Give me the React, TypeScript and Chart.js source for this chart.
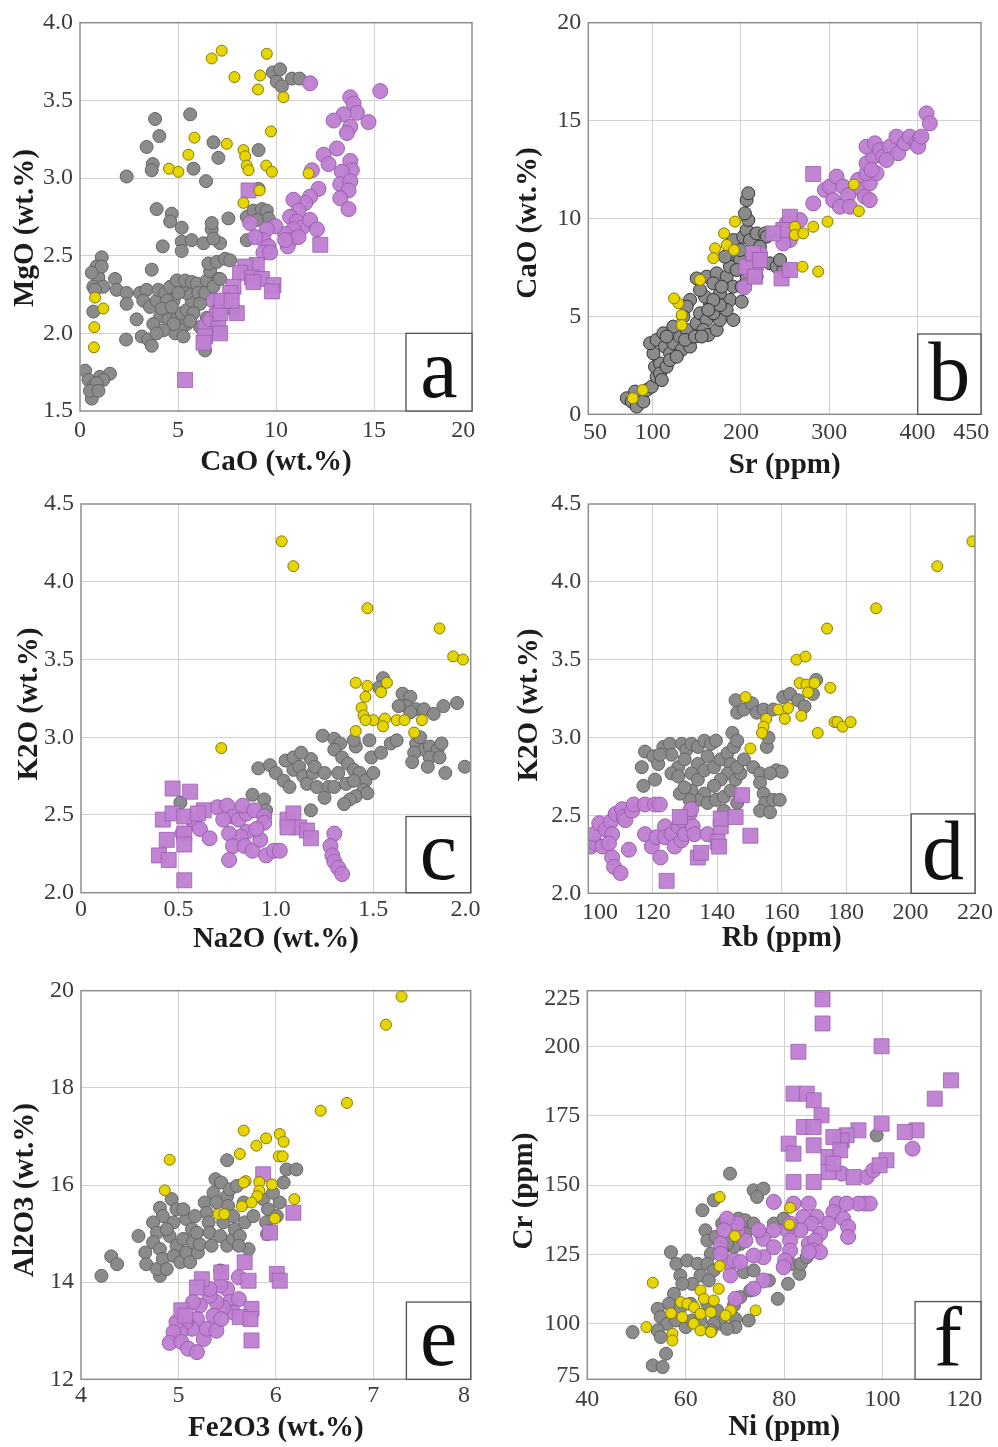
import { useEffect, useRef } from "react";
import { Chart, registerables } from "chart.js";
Chart.register(...registerables);

type Pt = [number, number];

// ---------------- Panel a : CaO vs MgO ----------------
const A_X_TICKS = [0, 5, 10, 15, 19.55];
const A_X_LABELS = ["0", "5", "10", "15", "20"];
const A_X_GRID = [5, 10, 15];
const A_Y_TICKS = [1.5, 2, 2.5, 3, 3.5, 4];
const A_Y_LABELS = ["1.5", "2.0", "2.5", "3.0", "3.5", "4.0"];
const A_Y_GRID = [2, 2.5, 3, 3.5];
const A_YELLOW: Pt[] = [[6.72,3.77],[7.23,3.82],[9.53,3.80],[7.88,3.65],[9.19,3.66],[9.08,3.57],[10.38,3.52],[9.74,3.30],[5.84,3.26],[7.49,3.22],[5.53,3.15],[8.34,3.18],[8.43,3.14],[8.51,3.08],[8.6,3.05],[4.54,3.06],[5.02,3.04],[9.5,3.08],[9.79,3.04],[11.66,3.03],[9.16,2.92],[8.34,2.84],[0.77,2.23],[1.19,2.16],[0.73,2.04],[0.71,1.91]];
const A_PSQ: Pt[] = [[8.6,2.92],[5.36,1.70],[12.26,2.57],[9.02,2.44],[8.43,2.43],[8.17,2.39],[8.77,2.36],[9.28,2.35],[9.87,2.31],[9.79,2.27],[8.85,2.33],[7.83,2.30],[7.66,2.26],[8.0,2.13],[7.15,2.13],[7.06,2.03],[7.15,2.0],[6.38,1.98],[6.3,1.94],[7.23,2.21],[7.74,2.21]];
const A_PCIR: Pt[] = [[11.74,3.61],[15.32,3.56],[13.79,3.52],[13.96,3.48],[14.13,3.42],[13.45,3.41],[12.94,3.37],[14.72,3.36],[13.79,3.33],[13.62,3.29],[13.11,3.19],[12.43,3.15],[12.68,3.09],[13.79,3.11],[13.87,3.05],[13.36,3.04],[13.28,2.96],[13.79,2.98],[13.7,2.92],[13.28,2.87],[13.7,2.80],[12.17,2.93],[11.74,2.88],[11.49,2.84],[10.89,2.86],[11.15,2.79],[10.72,2.75],[11.06,2.72],[11.32,2.68],[11.74,2.73],[12.09,2.67],[10.89,2.67],[10.47,2.64],[9.96,2.69],[9.53,2.67],[9.36,2.6],[9.62,2.56],[9.36,2.52],[9.7,2.52],[8.94,2.62],[8.68,2.71],[10.72,2.60],[10.6,2.56],[11.15,2.62],[10.47,2.60],[7.32,2.17],[6.81,2.21],[6.38,2.05],[6.64,2.09],[6.98,2.14],[11.83,3.05]];
const A_GRAY: Pt[] = [[0.26,1.76],[0.43,1.70],[0.68,1.66],[0.6,1.58],[1.02,1.72],[1.53,1.74],[1.19,1.70],[0.85,1.68],[0.51,1.63],[0.94,1.63],[1.11,2.49],[0.85,2.43],[0.94,2.36],[0.68,2.30],[1.19,2.30],[0.77,2.28],[1.79,2.35],[1.87,2.28],[2.38,2.26],[2.38,2.19],[2.35,1.96],[2.89,2.09],[2.38,3.01],[0.68,2.14],[1.11,2.43],[0.6,2.39],[3.06,2.26],[3.40,2.28],[3.23,2.21],[3.57,2.17],[3.91,2.21],[3.15,1.98],[3.49,1.96],[3.66,1.92],[3.66,2.41],[4.0,2.28],[4.34,2.26],[4.6,2.30],[4.77,2.21],[4.43,2.15],[4.09,2.11],[3.74,2.06],[4.51,2.09],[4.94,2.09],[5.19,2.13],[5.45,2.15],[5.7,2.21],[5.45,2.26],[5.19,2.30],[4.94,2.34],[5.36,2.34],[5.70,2.33],[5.96,2.32],[6.04,2.26],[6.13,2.19],[5.79,2.13],[5.45,2.06],[5.11,2.02],[4.85,2.0],[5.28,1.98],[4.77,2.06],[4.26,2.02],[3.91,2.0],[6.38,2.26],[6.47,2.34],[6.64,2.40],[6.55,2.45],[6.98,2.46],[7.4,2.48],[7.66,2.47],[7.06,2.35],[6.81,2.30],[6.98,2.21],[7.83,2.15],[6.38,1.89],[6.47,2.10],[6.13,2.04],[5.62,2.08],[4.43,2.21],[4.17,2.16],[5.02,2.26],[4.68,2.17],[3.91,2.80],[4.68,2.77],[4.6,2.72],[5.19,2.68],[5.19,2.59],[5.19,2.53],[5.70,2.60],[4.22,2.56],[6.3,2.58],[6.72,2.67],[6.72,2.71],[7.15,2.58],[6.81,2.61],[7.57,2.74],[8.51,2.75],[8.85,2.79],[9.28,2.80],[9.53,2.79],[9.62,2.74],[9.02,2.73],[8.51,2.60],[7.15,2.35],[3.83,3.38],[4.05,3.27],[3.40,3.20],[3.71,3.09],[3.66,3.05],[5.62,3.41],[5.79,3.06],[6.43,2.98],[6.81,3.23],[7.06,3.13],[9.11,3.18],[9.11,2.93],[9.84,3.68],[10.21,3.70],[10.04,3.62],[10.81,3.64],[11.2,3.64],[10.3,3.59]];

// ---------------- Panel b : Sr vs CaO ----------------
const B_X_TICKS = [34.7, 100, 200, 300, 400, 461];
const B_X_LABELS = ["50", "100", "200", "300", "400", "450"];
const B_X_GRID = [100, 200, 300, 400];
const B_Y_TICKS = [0, 5, 10, 15, 20];
const B_Y_LABELS = ["0", "5", "10", "15", "20"];
const B_Y_GRID = [5, 10, 15];
const B_YELLOW: Pt[] = [[77.4,0.82],[88.7,1.24],[193.2,9.84],[180.8,9.24],[183.8,8.65],[170.6,8.48],[168.7,7.97],[192.1,8.39],[153.6,6.86],[129.1,5.67],[132.8,5.07],[132.8,4.56],[261.1,9.58],[261.1,9.16],[270.6,9.24],[281.9,9.58],[298.1,9.84],[327.9,11.74],[333.6,10.38],[269.8,7.54],[287.5,7.29],[124.2,5.92]];
const B_PSQ: Pt[] = [[281.9,12.27],[206.4,7.54],[214,8.22],[215.8,7.03],[221.5,7.88],[246,6.94],[255.5,7.37],[255.5,10.09],[248,9.41],[236.6,9.24]];
const B_PCIR: Pt[] = [[203.8,6.49],[208.3,7.37],[214,7.88],[217.7,7.54],[221.5,8.22],[246,9.24],[251.7,9.75],[255.5,8.9],[248,8.73],[259.2,9.41],[266.8,9.92],[281.9,10.77],[295.1,11.46],[300.8,11.63],[308.3,12.14],[304.5,10.94],[312.1,10.6],[315.8,11.63],[321.5,11.2],[323.4,10.6],[332.8,11.97],[336.6,11.46],[340.4,11.12],[346,10.94],[346,11.8],[342.3,12.31],[342.3,12.82],[349.8,13.16],[342.3,13.67],[351.7,13.84],[357.4,13.5],[361.1,13.16],[368.7,13.67],[376.2,14.18],[378.1,13.33],[385.7,13.84],[391.3,14.18],[398.9,13.84],[402.6,14.09],[400.8,13.67],[410.2,15.37],[414,14.86],[404.5,14.18],[353.6,12.31],[347.9,12.48],[364.9,12.99]];
const B_GRAY: Pt[] = [[70.6,0.82],[76.2,0.65],[81.9,0.39],[85.7,0.9],[89.4,0.65],[80,1.16],[93.2,1.24],[98.9,1.41],[104.5,1.92],[102.6,2.43],[108.3,2.6],[100.8,3.11],[97.0,3.63],[104.5,3.80],[112.1,4.14],[113.9,3.46],[119.6,3.11],[123.4,3.63],[132.8,3.29],[130.9,3.97],[142.3,3.46],[144.2,3.97],[138.5,4.31],[149.8,4.65],[153.6,5.16],[161.1,4.82],[157.4,4.31],[163.0,4.05],[172.5,4.31],[176.2,4.82],[168.7,5.16],[164.9,5.67],[159.2,6.01],[153.6,6.35],[149.8,6.94],[161.1,7.03],[172.5,7.2],[183.8,7.03],[191.3,6.52],[187.5,5.84],[191.3,4.82],[183.8,5.33],[176.2,6.18],[168.7,6.69],[191.3,7.71],[198.9,7.88],[198.9,8.39],[191.3,8.9],[202.6,9.07],[206.4,9.41],[208.3,9.92],[204.5,10.26],[206.4,10.94],[208.3,11.29],[210.2,8.9],[217.7,9.24],[227.2,9.24],[229.1,9.07],[221.5,8.56],[232.8,7.71],[240.4,7.54],[247.9,7.37],[244.2,7.88],[217.7,7.03],[206.4,6.94],[200.8,5.75],[176.2,5.58],[168.7,5.84],[142.3,5.84],[138.5,5.5],[134.7,4.99],[123.4,4.48],[115.8,3.97],[108.3,2.09],[110.2,1.75],[115.8,2.43],[119.6,2.77],[127.2,2.94],[136.6,3.80],[147.9,3.97],[155.5,3.97],[163.0,5.33],[178.1,6.52],[187.5,7.54],[181.9,8.05],[195.1,7.37],[200.8,6.52],[214.0,8.05],[215.8,7.54]];

// ---------------- Panel c : Na2O vs K2O ----------------
const C_X_TICKS = [0, 0.5, 1, 1.5, 1.973];
const C_X_LABELS = ["0", "0.5", "1.0", "1.5", "2.0"];
const C_X_GRID = [0.5, 1, 1.5];
const C_Y_TICKS = [2, 2.5, 3, 3.5, 4, 4.5];
const C_Y_LABELS = ["2.0", "2.5", "3.0", "3.5", "4.0", "4.5"];
const C_Y_GRID = [2.5, 3, 3.5, 4];
const C_YELLOW: Pt[] = [[1.03,4.26],[1.09,4.10],[1.47,3.83],[1.84,3.70],[1.91,3.52],[1.96,3.50],[0.72,2.93],[1.41,3.35],[1.47,3.33],[1.46,3.26],[1.54,3.29],[1.57,3.35],[1.44,3.19],[1.45,3.14],[1.50,3.11],[1.56,3.12],[1.55,3.07],[1.62,3.11],[1.66,3.11],[1.75,3.11],[1.71,3.03],[1.41,3.04],[1.46,3.11]];
const C_PSQ: Pt[] = [[0.47,2.67],[0.56,2.65],[0.63,2.53],[0.42,2.47],[0.47,2.51],[0.53,2.49],[0.53,2.38],[0.44,2.34],[0.40,2.24],[0.45,2.21],[0.53,2.08],[0.60,2.51],[1.06,2.47],[1.09,2.51],[1.12,2.42],[1.16,2.40],[1.18,2.35],[0.53,2.31],[1.06,2.42]];
const C_PCIR: Pt[] = [[0.52,2.38],[0.58,2.45],[0.61,2.41],[0.66,2.35],[0.70,2.55],[0.75,2.56],[0.78,2.49],[0.81,2.47],[0.85,2.51],[0.83,2.56],[0.89,2.53],[0.94,2.49],[0.94,2.45],[0.85,2.39],[0.82,2.36],[0.76,2.38],[0.78,2.30],[0.84,2.30],[0.88,2.27],[0.92,2.34],[0.90,2.41],[0.76,2.21],[0.95,2.24],[0.99,2.27],[1.02,2.27],[1.30,2.38],[1.28,2.30],[1.29,2.24],[1.30,2.20],[1.32,2.16],[1.34,2.12],[0.73,2.47]];
const C_GRAY: Pt[] = [[0.51,2.58],[0.88,2.63],[0.94,2.60],[0.95,2.53],[1.18,2.53],[0.91,2.80],[0.97,2.82],[1.0,2.77],[1.04,2.72],[1.07,2.68],[1.09,2.79],[1.05,2.85],[1.09,2.87],[1.12,2.81],[1.14,2.75],[1.16,2.70],[1.21,2.68],[1.19,2.77],[1.18,2.86],[1.13,2.90],[1.2,2.81],[1.25,2.77],[1.27,2.68],[1.25,2.61],[1.24,3.01],[1.30,2.99],[1.33,2.96],[1.30,2.92],[1.34,2.87],[1.37,2.83],[1.40,2.79],[1.43,2.77],[1.46,2.72],[1.45,2.66],[1.41,2.62],[1.38,2.60],[1.35,2.57],[1.30,2.68],[1.32,2.77],[1.36,2.70],[1.40,2.72],[1.47,2.64],[1.50,2.77],[1.49,2.87],[1.41,2.94],[1.40,2.98],[1.48,2.98],[1.54,2.90],[1.59,2.96],[1.62,2.98],[1.65,3.28],[1.69,3.26],[1.67,3.20],[1.72,3.18],[1.76,3.18],[1.69,3.16],[1.63,3.20],[1.55,3.38],[1.53,3.32],[1.81,3.15],[1.86,3.20],[1.93,3.22],[1.97,2.81],[1.87,2.77],[1.72,2.96],[1.76,2.92],[1.79,2.94],[1.83,2.92],[1.85,2.96],[1.79,2.87],[1.71,2.90],[1.74,3.0],[1.84,2.87],[1.70,2.84],[1.78,2.81]];

// ---------------- Panel d : Rb vs K2O ----------------
const D_X_TICKS = [103.6, 120, 140, 160, 180, 200, 220];
const D_X_LABELS = ["100", "120", "140", "160", "180", "200", "220"];
const D_X_GRID = [120, 140, 160, 180, 200];
const D_Y_TICKS = [2, 2.5, 3, 3.5, 4, 4.5];
const D_Y_LABELS = ["2.0", "2.5", "3.0", "3.5", "4.0", "4.5"];
const D_Y_GRID = [2.5, 3, 3.5, 4];
const D_YELLOW: Pt[] = [[219.2,4.26],[208.3,4.10],[189.3,3.83],[174.1,3.70],[164.6,3.50],[167.4,3.52],[165.6,3.35],[167.7,3.34],[170.2,3.35],[168.2,3.29],[175.1,3.32],[148.8,3.26],[155.2,3.12],[154.4,3.07],[153.9,3.03],[159,3.18],[162,3.19],[161,3.12],[166.1,3.14],[176.4,3.10],[177.3,3.10],[178.9,3.07],[181.4,3.10],[171.2,3.03],[150.3,2.93]];
const D_PSQ: Pt[] = [[124.3,2.08],[134,2.23],[135,2.26],[140.1,2.33],[140.6,2.30],[141.1,2.43],[141.1,2.48],[145.7,2.49],[147.7,2.63],[150.3,2.37],[128.4,2.49]];
const D_PCIR: Pt[] = [[100.8,2.30],[102.3,2.32],[101.8,2.38],[103.4,2.45],[105.4,2.41],[107,2.46],[107.4,2.38],[104.4,2.30],[106.4,2.32],[107.4,2.23],[108,2.17],[110,2.13],[108.5,2.51],[110.5,2.54],[111,2.49],[111.5,2.47],[113.6,2.53],[114.1,2.57],[117.6,2.57],[120.7,2.57],[122.2,2.57],[112.6,2.28],[117.6,2.38],[119.7,2.30],[122.4,2.23],[121.2,2.36],[123.8,2.43],[123.8,2.36],[125.8,2.38],[127.9,2.43],[126.8,2.30],[128.9,2.34],[129.9,2.38],[128.9,2.47],[131.4,2.51],[132.4,2.43],[132.9,2.38],[137,2.38],[131.9,2.54]];
const D_GRAY: Pt[] = [[116.6,2.81],[117.1,2.69],[117.6,2.91],[120.2,2.88],[120.7,2.73],[121.7,2.83],[123.3,2.94],[125.3,2.96],[125.8,2.89],[127.9,2.81],[125.8,2.77],[129,2.96],[130.4,2.92],[132,2.96],[134,2.94],[136,2.98],[138.1,2.96],[139.6,2.98],[137,2.88],[134,2.83],[132,2.77],[134,2.73],[136,2.79],[139,2.81],[141.1,2.86],[143.2,2.90],[144.2,2.83],[143.2,2.77],[141.1,2.73],[139,2.69],[136,2.64],[134,2.60],[132,2.66],[131.4,2.60],[137,2.58],[139.6,2.60],[142.1,2.62],[144.2,2.66],[145.7,2.73],[147.2,2.77],[146.2,2.81],[148.3,2.86],[145.2,2.94],[144.7,3.03],[146.2,2.98],[142.1,2.53],[146.2,2.58],[145.7,3.24],[146.2,3.16],[148.3,3.18],[150.8,3.22],[152.3,3.16],[154.4,3.18],[151.2,2.81],[153.3,2.77],[153.3,2.71],[154.4,2.64],[154.9,2.58],[153.3,2.53],[156.4,2.52],[157.4,2.60],[159.4,2.60],[158.4,2.79],[160,2.78],[156.4,2.77],[155.4,2.94],[155.9,3.0],[157.4,3.18],[160.5,3.26],[162.6,3.28],[165.1,3.24],[167.1,3.20],[169.7,3.28],[170.7,3.37],[129.9,2.86],[127.9,2.75],[128.4,2.64],[129.9,2.68],[131.4,2.53],[122.2,2.89]];

// ---------------- Panel e : Fe2O3 vs Al2O3 ----------------
const E_X_TICKS = [4, 5, 6, 7, 7.93];
const E_X_LABELS = ["4", "5", "6", "7", "8"];
const E_X_GRID = [5, 6, 7];
const E_Y_TICKS = [12, 14, 16, 18, 20];
const E_Y_LABELS = ["12", "14", "16", "18", "20"];
const E_Y_GRID = [14, 16, 18];
const E_YELLOW: Pt[] = [[7.29,19.88],[7.13,19.30],[6.46,17.53],[6.73,17.69],[5.67,17.12],[5.90,16.96],[5.80,16.81],[6.04,17.05],[6.08,16.89],[5.63,16.64],[6.03,16.59],[6.07,16.59],[4.91,16.52],[4.86,15.89],[5.69,16.08],[5.67,16.05],[5.83,16.06],[5.96,16.01],[5.83,15.88],[5.81,15.77],[5.75,15.64],[5.65,15.56],[5.41,15.40],[5.47,15.40],[6.19,15.71],[5.99,15.31]];
const E_PSQ: Pt[] = [[5.87,16.22],[5.94,15.02],[6.18,15.43],[5.68,14.41],[5.72,14.03],[6.01,14.17],[6.04,14.03],[5.24,14.06],[5.19,13.89],[5.44,14.20],[5.75,13.45],[5.63,13.28],[5.74,13.24],[5.75,12.80],[5.03,13.42],[5.07,13.31]];
const E_PCIR: Pt[] = [[5.62,14.10],[5.50,13.86],[5.43,13.93],[5.53,13.59],[5.62,13.65],[5.56,13.38],[5.46,13.48],[5.39,13.59],[5.36,13.31],[5.32,13.72],[5.22,13.52],[5.19,13.24],[5.14,13.04],[5.08,13.18],[5.02,12.97],[4.98,13.18],[4.95,12.97],[4.91,12.75],[5.03,12.77],[5.10,12.63],[5.19,12.56],[5.26,12.83],[5.29,13.04],[5.39,13.0],[5.44,13.24],[5.15,13.59],[5.32,13.86]];
const E_GRAY: Pt[] = [[4.21,14.13],[4.31,14.53],[4.37,14.37],[4.59,14.95],[4.66,14.61],[4.67,14.37],[4.81,14.13],[4.78,14.27],[4.81,15.53],[4.84,15.36],[4.93,15.71],[4.98,15.50],[4.74,15.23],[4.78,15.02],[4.74,14.82],[4.81,14.68],[4.84,14.48],[4.88,14.27],[4.91,14.95],[4.95,15.23],[4.88,15.09],[4.98,14.75],[4.95,14.54],[5.02,14.41],[5.05,14.89],[5.08,15.30],[5.08,14.61],[5.14,15.09],[5.15,14.82],[5.12,14.41],[5.20,14.61],[5.22,14.78],[5.19,15.02],[5.27,15.64],[5.29,15.43],[5.31,15.23],[5.32,15.02],[5.34,14.75],[5.36,15.84],[5.38,16.12],[5.44,16.05],[5.39,15.64],[5.50,15.77],[5.51,15.57],[5.46,15.23],[5.43,14.95],[5.50,14.75],[5.56,14.89],[5.58,15.09],[5.56,15.36],[5.53,15.91],[5.60,15.98],[5.67,15.64],[5.68,15.23],[5.63,14.95],[5.72,14.68],[5.62,14.75],[5.43,14.24],[5.50,16.51],[5.77,15.36],[5.87,15.71],[5.92,15.50],[5.90,15.23],[5.91,14.99],[6.01,15.36],[6.04,15.64],[5.97,15.84],[6.08,16.05],[6.11,16.32],[6.21,16.32],[5.94,15.06],[5.17,15.36],[5.05,15.50]];

// ---------------- Panel f : Ni vs Cr ----------------
const F_X_TICKS = [40, 60, 80, 100, 116.6];
const F_X_LABELS = ["40", "60", "80", "100", "120"];
const F_X_GRID = [60, 80, 100];
const F_Y_TICKS = [81.3, 100, 125, 150, 175, 200, 217];
const F_Y_LABELS = ["75", "100", "125", "150", "175", "200", "225"];
const F_Y_GRID = [100, 125, 150, 175, 200];
const F_YELLOW: Pt[] = [[66.9,145.7],[81.2,141.8],[81.1,135.8],[70.0,131.6],[66.9,120.8],[53.3,114.8],[66.7,112.6],[63.0,112.0],[63.7,109.0],[65.7,108.4],[59.0,107.8],[60.3,107.2],[61.7,106.0],[63.0,103.6],[65.1,104.2],[57.0,103.8],[59.3,102.4],[61.6,100.0],[63.0,97.6],[65.1,97.0],[57.3,96.4],[57.3,94.0],[52.0,98.8],[69.1,104.8],[68.1,103.0],[74.2,104.8]];
const F_PSQ: Pt[] = [[87.8,216.9],[87.8,208.2],[82.9,198.0],[99.8,200.0],[113.9,187.7],[110.6,181.1],[81.9,182.9],[84.6,182.9],[86.0,180.5],[87.6,175.1],[84.0,170.9],[86.0,170.9],[99.8,172.1],[95.1,169.7],[92.7,167.9],[91.7,166.1],[90.0,167.3],[106.9,169.7],[104.5,169.1],[80.9,164.9],[86.0,164.3],[81.9,161.3],[89.0,160.1],[91.4,162.5],[100.8,158.9],[99.4,157.1],[89.0,154.7],[94.1,152.9],[81.9,151.1],[86.0,151.1],[90.0,157.7]];
const F_PCIR: Pt[] = [[106.1,163.1],[91.7,154.1],[96.8,152.9],[98.1,155.3],[96.4,143.3],[97.4,143.3],[95.1,143.3],[90.7,143.3],[92.7,143.3],[90.0,140.3],[92.0,137.9],[93.0,134.9],[93.0,131.3],[89.0,136.1],[87.3,132.5],[86.6,138.5],[85.0,143.3],[81.9,143.3],[83.9,138.5],[85.6,136.1],[83.3,133.7],[80.6,133.7],[81.2,130.0],[85.0,128.8],[86.3,130.0],[86.0,126.4],[87.3,125.8],[85.0,125.8],[81.2,126.4],[80.2,122.8],[79.9,120.4],[81.2,136.1],[77.9,143.9],[77.9,133.7],[75.8,130.6],[74.8,133.7],[77.9,127.6],[75.8,124.0],[73.8,124.6],[72.1,130.0],[70.5,133.7],[70.5,136.1],[68.4,137.9],[67.8,133.7],[67.1,128.8],[67.1,125.2],[69.1,121.6],[69.8,122.8],[71.1,122.2],[69.1,117.4],[75.8,115.6],[73.8,112.6],[70.1,109.0]];
const F_GRAY: Pt[] = [[69.0,154.1],[73.8,148.1],[75.8,148.7],[74.5,145.7],[65.7,144.5],[63.4,140.9],[64.0,133.7],[64.4,130.0],[66.1,131.3],[67.4,136.1],[70.7,137.9],[72.1,137.3],[73.8,136.1],[75.2,132.5],[72.1,132.5],[71.1,128.8],[69.8,127.6],[68.4,128.8],[67.4,126.4],[65.1,125.2],[57.0,125.8],[58.1,121.6],[60.3,122.8],[62.4,121.6],[64.4,121.6],[65.7,119.2],[58.9,117.4],[63.0,117.4],[64.7,115.6],[61.3,114.4],[59.3,114.4],[57.6,110.8],[56.6,107.2],[54.3,105.4],[54.9,102.4],[56.3,100.0],[58.0,101.2],[60.0,98.8],[61.3,101.2],[59.0,106.0],[61.0,107.2],[64.4,107.2],[66.4,104.8],[67.1,100.0],[65.7,100.0],[70.1,101.8],[70.1,98.8],[72.8,101.2],[54.3,97.6],[54.9,95.2],[56.0,89.2],[53.3,85.0],[55.3,84.4],[49.2,97.0],[69.8,106.6],[71.1,109.6],[73.1,112.0],[71.8,118.6],[73.8,119.2],[76.9,115.6],[78.7,109.0],[80.8,114.4],[83.1,118.0],[81.4,121.6],[83.4,121.6],[84.6,124.0],[77.9,136.1],[79.9,137.9],[98.8,167.9],[65.1,97.6],[63.0,101.2],[68.4,98.2]];

// ---------------- layout / style ----------------
const FONT = "'Liberation Serif', 'Times New Roman', serif";
const GRID_COLOR = "#d2d2d2";
const TITLE_SIZE = 29;
const TICK_SIZE = 24;
const TITLE_HALF = (TITLE_SIZE * 1.2) / 2;

Chart.defaults.font.family = FONT;

interface PanelCfg {
  x: number; y: number; w: number; h: number;
  L: number; T: number; R: number; B: number;
  xMin: number; xMax: number; yMin: number; yMax: number;
  xTicks: number[]; xLabels: string[]; xGrid: number[];
  yTicks: number[]; yLabels: string[]; yGrid: number[];
  xTitle: string; yTitle: string; xTitleY: number; yTitleX: number; yTitleY: number; xTickPad: number;
  box: [number, number, number, number]; letter: string;
  yellow: Pt[]; psq: Pt[]; pcir: Pt[]; gray: Pt[]; grayBorder: string;
}

const PANELS: PanelCfg[] = [
  { x: 0, y: 0, w: 499, h: 490, L: 80, T: 22.7, R: 472, B: 411,
    xMin: 0, xMax: 20, yMin: 1.5, yMax: 4.0,
    xTicks: A_X_TICKS, xLabels: A_X_LABELS, xGrid: A_X_GRID,
    yTicks: A_Y_TICKS, yLabels: A_Y_LABELS, yGrid: A_Y_GRID,
    xTitle: "CaO (wt.%)", yTitle: "MgO (wt.%)", xTitleY: 463, yTitleX: 26, yTitleY: 228, xTickPad: 5,
    box: [16.63, 20, 1.5, 2.0], letter: "a",
    yellow: A_YELLOW, psq: A_PSQ, pcir: A_PCIR, gray: A_GRAY, grayBorder: "#646464" },
  { x: 499, y: 0, w: 499, h: 490, L: 588.3, T: 22.7, R: 981, B: 414.3,
    xMin: 27, xMax: 472, yMin: 0, yMax: 20,
    xTicks: B_X_TICKS, xLabels: B_X_LABELS, xGrid: B_X_GRID,
    yTicks: B_Y_TICKS, yLabels: B_Y_LABELS, yGrid: B_Y_GRID,
    xTitle: "Sr (ppm)", yTitle: "CaO (wt.%)", xTitleY: 466, yTitleX: 529, yTitleY: 223, xTickPad: 4,
    box: [400.3, 472, 0, 4.1], letter: "b",
    yellow: B_YELLOW, psq: B_PSQ, pcir: B_PCIR, gray: B_GRAY, grayBorder: "#333333" },
  { x: 0, y: 478, w: 499, h: 487, L: 81, T: 504, R: 470.7, B: 892.7,
    xMin: 0, xMax: 2, yMin: 2, yMax: 4.5,
    xTicks: C_X_TICKS, xLabels: C_X_LABELS, xGrid: C_X_GRID,
    yTicks: C_Y_TICKS, yLabels: C_Y_LABELS, yGrid: C_Y_GRID,
    xTitle: "Na2O (wt.%)", yTitle: "K2O (wt.%)", xTitleY: 940, yTitleX: 30, yTitleY: 704, xTickPad: 3,
    box: [1.668, 2, 2, 2.49], letter: "c",
    yellow: C_YELLOW, psq: C_PSQ, pcir: C_PCIR, gray: C_GRAY, grayBorder: "#646464" },
  { x: 499, y: 478, w: 499, h: 487, L: 588.3, T: 504, R: 981, B: 893.3,
    xMin: 100, xMax: 220, yMin: 2, yMax: 4.5,
    xTicks: D_X_TICKS, xLabels: D_X_LABELS, xGrid: D_X_GRID,
    yTicks: D_Y_TICKS, yLabels: D_Y_LABELS, yGrid: D_Y_GRID,
    xTitle: "Rb (ppm)", yTitle: "K2O (wt.%)", xTitleY: 939, yTitleX: 530, yTitleY: 705, xTickPad: 5,
    box: [200.2, 220, 2, 2.51], letter: "d",
    yellow: D_YELLOW, psq: D_PSQ, pcir: D_PCIR, gray: D_GRAY, grayBorder: "#646464" },
  { x: 0, y: 962, w: 499, h: 485, L: 81, T: 990.7, R: 470.7, B: 1379.3,
    xMin: 4, xMax: 8, yMin: 12, yMax: 20,
    xTicks: E_X_TICKS, xLabels: E_X_LABELS, xGrid: E_X_GRID,
    yTicks: E_Y_TICKS, yLabels: E_Y_LABELS, yGrid: E_Y_GRID,
    xTitle: "Fe2O3 (wt.%)", yTitle: "Al2O3 (wt.%)", xTitleY: 1429, yTitleX: 26, yTitleY: 1190, xTickPad: 2,
    box: [7.34, 8, 12, 13.59], letter: "e",
    yellow: E_YELLOW, psq: E_PSQ, pcir: E_PCIR, gray: E_GRAY, grayBorder: "#646464" },
  { x: 499, y: 962, w: 499, h: 485, L: 587.3, T: 990.7, R: 981, B: 1379.3,
    xMin: 40, xMax: 120, yMin: 80, yMax: 220,
    xTicks: F_X_TICKS, xLabels: F_X_LABELS, xGrid: F_X_GRID,
    yTicks: F_Y_TICKS, yLabels: F_Y_LABELS, yGrid: F_Y_GRID,
    xTitle: "Ni (ppm)", yTitle: "Cr (ppm)", xTitleY: 1428, yTitleX: 525, yTitleY: 1191, xTickPad: 6,
    box: [106.6, 120, 80, 108], letter: "f",
    yellow: F_YELLOW, psq: F_PSQ, pcir: F_PCIR, gray: F_GRAY, grayBorder: "#646464" },
];

const toXY = (pts: Pt[]) => pts.map(([x, y]) => ({ x, y }));

function Panel({ cfg }: { cfg: PanelCfg }) {
  const ref = useRef<HTMLCanvasElement>(null);
  useEffect(() => {
    const canvas = ref.current;
    if (!canvas) return;
    const frame = {
      id: "frame",
      afterDatasetsDraw(chart: any) {
        const { ctx, chartArea, scales } = chart;
        const { left, top, right, bottom } = chartArea;
        ctx.save();
        ctx.strokeStyle = "#8e8e8e";
        ctx.lineWidth = 1.5;
        ctx.strokeRect(left, top, right - left, bottom - top);
        const bx0 = scales.x.getPixelForValue(cfg.box[0]);
        const bx1 = scales.x.getPixelForValue(cfg.box[1]);
        const by0 = scales.y.getPixelForValue(cfg.box[3]);
        const by1 = scales.y.getPixelForValue(cfg.box[2]);
        ctx.fillStyle = "#ffffff";
        ctx.fillRect(bx0, by0, bx1 - bx0, by1 - by0);
        ctx.strokeStyle = "#505050";
        ctx.lineWidth = 1.3;
        ctx.strokeRect(bx0, by0, bx1 - bx0, by1 - by0);
        ctx.fillStyle = "#111111";
        ctx.font = `84px ${FONT}`;
        ctx.textAlign = "center";
        ctx.textBaseline = "alphabetic";
        ctx.fillText(cfg.letter, (bx0 + bx1) / 2, by1 - 14);
        // vertical axis title
        ctx.translate(cfg.yTitleX - cfg.x, cfg.yTitleY - cfg.y);
        ctx.rotate(-Math.PI / 2);
        ctx.fillStyle = "#1c1c1c";
        ctx.font = `bold ${TITLE_SIZE}px ${FONT}`;
        ctx.textAlign = "center";
        ctx.textBaseline = "middle";
        ctx.fillText(cfg.yTitle, 0, 0);
        ctx.restore();
      },
    };
    const purple = "rgba(192,128,210,0.96)";
    const purpleEdge = "#9b5fb0";
    const chart = new Chart(canvas, {
      type: "scatter",
      data: {
        datasets: [
          { data: toXY(cfg.yellow), pointStyle: "circle", pointRadius: 5.5, backgroundColor: "#e6d500", borderColor: "#857a00", borderWidth: 1 },
          { data: toXY(cfg.psq), pointStyle: "rect", pointRadius: 10.6, backgroundColor: purple, borderColor: purpleEdge, borderWidth: 0.8 },
          { data: toXY(cfg.pcir), pointStyle: "circle", pointRadius: 7.5, backgroundColor: purple, borderColor: purpleEdge, borderWidth: 1 },
          { data: toXY(cfg.gray), pointStyle: "circle", pointRadius: 6.5, backgroundColor: "#8b8b8b", borderColor: cfg.grayBorder, borderWidth: 1 },
        ] as any,
      },
      options: {
        responsive: false,
        animation: false,
        devicePixelRatio: 1,
        events: [],
        layout: { padding: { left: 0, top: cfg.T - cfg.y, right: cfg.x + cfg.w - cfg.R, bottom: 0 } },
        plugins: { legend: { display: false }, tooltip: { enabled: false } },
        scales: {
          x: {
            type: "linear", min: cfg.xMin, max: cfg.xMax,
            afterBuildTicks: (s: any) => { s.ticks = cfg.xTicks.map((v) => ({ value: v })); },
            afterFit: (s: any) => { s.height = cfg.y + cfg.h - cfg.B; },
            ticks: {
              autoSkip: false, maxRotation: 0, minRotation: 0, padding: cfg.xTickPad,
              color: "#3c3c3c", font: { family: FONT, size: TICK_SIZE },
              callback: (_v: any, i: number) => cfg.xLabels[i],
            },
            grid: {
              drawTicks: false, lineWidth: 1,
              color: (c: any) => (c.tick && cfg.xGrid.includes(c.tick.value) ? GRID_COLOR : "rgba(0,0,0,0)"),
            },
            border: { display: false },
            title: {
              display: true, text: cfg.xTitle, color: "#1c1c1c",
              font: { family: FONT, size: TITLE_SIZE, weight: "bold" },
              padding: { top: 0, bottom: Math.max(0, cfg.y + cfg.h - cfg.xTitleY - TITLE_HALF) },
            },
          },
          y: {
            type: "linear", min: cfg.yMin, max: cfg.yMax,
            afterBuildTicks: (s: any) => { s.ticks = cfg.yTicks.map((v) => ({ value: v })); },
            afterFit: (s: any) => { s.width = cfg.L - cfg.x; },
            ticks: {
              autoSkip: false, padding: 7,
              color: "#3c3c3c", font: { family: FONT, size: TICK_SIZE },
              callback: (_v: any, i: number) => cfg.yLabels[i],
            },
            grid: {
              drawTicks: false, lineWidth: 1,
              color: (c: any) => (c.tick && cfg.yGrid.includes(c.tick.value) ? GRID_COLOR : "rgba(0,0,0,0)"),
            },
            border: { display: false },
            title: { display: false },
          },
        },
      } as any,
      plugins: [frame],
    });
    return () => chart.destroy();
  }, [cfg]);
  return (
    <canvas
      ref={ref}
      width={cfg.w}
      height={cfg.h}
      style={{ position: "absolute", left: cfg.x, top: cfg.y, width: cfg.w, height: cfg.h }}
    />
  );
}

export default function App() {
  return (
    <div style={{ position: "absolute", left: 0, top: 0, width: 998, height: 1447, background: "#ffffff", overflow: "hidden" }}>
      {PANELS.map((p) => (
        <Panel key={p.letter} cfg={p} />
      ))}
    </div>
  );
}
